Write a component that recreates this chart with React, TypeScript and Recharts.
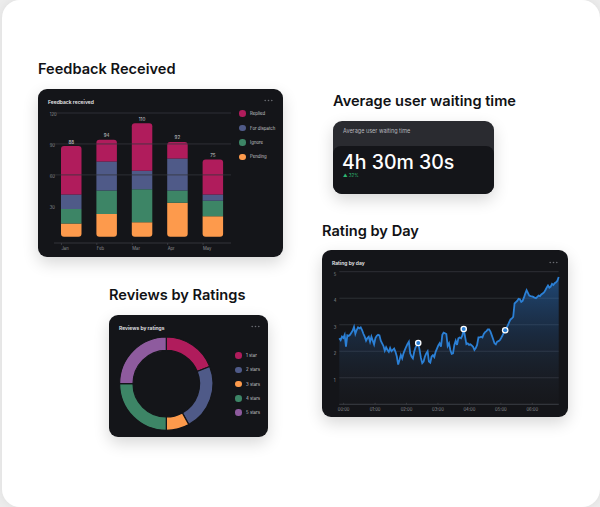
import { BarChart, Bar, XAxis, YAxis, ReferenceLine, LabelList, PieChart, Pie, Cell, AreaChart, Area, CartesianGrid } from 'recharts';

// Feedback received (stacked)
const MONTHS = ['Jan', 'Feb', 'Mar', 'Apr', 'May'];
const PENDING = [13, 22, 14, 33, 20];
const IGNORE = [14, 23, 32, 12, 15];
const DISPATCH = [14, 28, 18, 31, 6];
const REPLIED = [47, 21, 46, 16, 34];
const TOTALS = [88, 94, 110, 92, 75];
const FEEDBACK_TICKS = [30, 60, 90, 120];
const FEEDBACK_GRID = [60, 90, 120];

// Reviews by ratings
const STAR_LABELS = ['1 star', '2 stars', '3 stars', '4 stars', '5 stars'];
const STAR_SHARES = [19, 23, 8, 25, 25];

// Rating by day
const HOURS = [0, 1, 2, 3, 4, 5, 6];
const HOUR_LABELS = ['00:00', '01:00', '02:00', '03:00', '04:00', '05:00', '06:00'];
const RATING_TICKS = [1, 2, 3, 4, 5];
const DAY_START = -0.138;
const DAY_STEP = 0.04255;
const DAY_RATINGS = [
  2.49, 2.42, 2.55, 2.5, 2.62, 2.17, 2.6, 2.58, 2.62, 2.7, 2.78, 2.92, 2.66,
  2.8, 2.9, 2.86, 2.9, 2.8, 2.66, 2.55, 2.4, 2.5, 2.55, 2.36, 2.55,
  2.4, 2.26, 2.5, 2.58, 2.62, 2.6, 2.4, 2.3, 2.2, 2.02, 2.15, 2.05,
  1.98, 2.12, 2.0, 2.05, 2.1, 1.98, 1.8, 1.5, 1.67, 1.86, 1.73, 1.92,
  2.05, 2.17, 2.28, 2.36, 1.92, 1.8, 1.73, 1.98, 2.15, 2.22, 2.31, 2.05,
  1.75, 1.55, 1.61, 1.8, 1.92, 2.0, 1.61, 1.57, 1.8, 1.85, 1.78, 1.98,
  2.1, 2.22, 2.3, 2.17, 2.62, 2.7, 2.68, 2.65, 2.2, 2.3, 2.05, 1.9,
  1.92, 2.24, 2.4, 2.24, 2.49, 2.52, 2.49, 2.6, 2.84, 2.55, 2.27, 2.3,
  2.24, 2.26, 2.22, 2.17, 2.05, 2.12, 2.24, 2.52, 2.52, 2.55, 2.52, 2.65,
  2.72, 2.76, 2.82, 2.82, 2.74, 2.6, 2.45, 2.3, 2.26, 2.36, 2.38, 2.42,
  2.5, 2.6, 2.7, 2.79, 2.88, 2.98, 3.1, 3.2, 3.24, 3.3, 3.8, 3.85,
  3.9, 3.98, 3.96, 3.86, 3.9, 4.02, 4.18, 4.3, 4.2, 4.1, 4.08, 4.07,
  4.05, 4.02, 4.0, 4.05, 4.1, 4.08, 4.14, 4.18, 4.22, 4.3, 4.4, 4.48,
  4.4, 4.44, 4.54, 4.5, 4.57, 4.6, 4.66, 4.8,
];
const HIGHLIGHT = [59, 93, 124];

const CARD_BG = '#141519';
const GRID = '#34363c';
const AXIS_TEXT = '#8b8d93';
const FONT = 'Inter, "Noto Sans", sans-serif';
const C_RED = '#b01c5c';
const C_BLUE = '#4f5a88';
const C_GREEN = '#3d8566';
const C_ORANGE = '#fd9a4c';
const C_PURPLE = '#8e5b9e';
const BAR_W = 20.5;

const feedbackData = MONTHS.map((m, i) => ({
  month: m,
  pending: PENDING[i],
  ignore: IGNORE[i],
  dispatch: DISPATCH[i],
  replied: REPLIED[i],
  total: TOTALS[i],
}));
const starData = STAR_LABELS.map((name, i) => ({ name, value: STAR_SHARES[i] }));
const STAR_COLORS = [C_RED, C_BLUE, C_ORANGE, C_GREEN, C_PURPLE];
const dayData = DAY_RATINGS.map((r, i) => ({ t: DAY_START + i * DAY_STEP, rating: r }));
const DAY_END = DAY_START + (DAY_RATINGS.length - 1) * DAY_STEP;

function Card({ left, top, width, height, bg = CARD_BG, children }: any) {
  return (
    <div
      style={{
        position: 'absolute',
        left,
        top,
        width,
        height,
        background: bg,
        borderRadius: 9,
        overflow: 'hidden',
        boxShadow: '0 6px 16px rgba(0,0,0,0.16)',
      }}
    >
      {children}
    </div>
  );
}

function Heading({ x, cy, text }: { x: number; cy: number; text: string }) {
  return (
    <div
      style={{
        position: 'absolute',
        left: x,
        top: cy - 7.3,
        fontSize: 14.6,
        lineHeight: '14.6px',
        fontWeight: 600,
        color: '#111215',
        fontFamily: FONT,
        whiteSpace: 'nowrap',
      }}
    >
      {text}
    </div>
  );
}

function CardTitle({ text }: { text: string }) {
  return (
    <div
      style={{
        position: 'absolute',
        left: 10,
        top: 10.5,
        fontSize: 5,
        lineHeight: '5px',
        fontWeight: 600,
        color: '#e8e9ec',
        fontFamily: FONT,
        whiteSpace: 'nowrap',
      }}
    >
      {text}
    </div>
  );
}

function More({ right, top }: { right: number; top: number }) {
  return (
    <svg style={{ position: 'absolute', right, top }} width={9} height={3}>
      {[1.2, 4.5, 7.8].map((cx) => (
        <circle key={cx} cx={cx} cy={1.5} r={0.8} fill="#6b6d73" />
      ))}
    </svg>
  );
}

function LegendList({ left, top, gap, items }: { left: number; top: number; gap: number; items: { label: string; color: string }[] }) {
  return (
    <div style={{ position: 'absolute', left, top }}>
      {items.map((it, i) => (
        <div key={it.label} style={{ position: 'absolute', top: i * gap - 3.3, left: 0, display: 'flex', alignItems: 'center', height: 6.6 }}>
          <div style={{ width: 6.6, height: 6.6, borderRadius: '50%', background: it.color }} />
          <div style={{ marginLeft: 4.5, fontSize: 4.3, color: '#c4c5ca', fontFamily: FONT, whiteSpace: 'nowrap' }}>{it.label}</div>
        </div>
      ))}
    </div>
  );
}

const FeedbackXTick = ({ x, y, payload }: any) => {
  const left = x - BAR_W / 2;
  return (
    <g>
      <line x1={left} x2={left} y1={y} y2={y + 2} stroke="#4a4c52" strokeWidth={0.6} />
      <text x={left} y={y + 5} fontSize={4.2} fill={AXIS_TEXT} fontFamily={FONT} dominantBaseline="central">
        {payload.value}
      </text>
    </g>
  );
};

const LeftYTick = ({ y, payload }: any) => (
  <text x={11.7} y={y + 1.8} fontSize={4.2} fill={AXIS_TEXT} fontFamily={FONT} dominantBaseline="central">
    {payload.value}
  </text>
);

const HourTick = ({ x, y, payload }: any) => (
  <g>
    <line x1={x} x2={x} y1={y - 1.5} y2={y} stroke="#4a4c52" strokeWidth={0.6} />
    <text x={x} y={y + 5} fontSize={4.2} fill={AXIS_TEXT} fontFamily={FONT} textAnchor="middle" dominantBaseline="central">
      {HOUR_LABELS[HOURS.indexOf(payload.value)]}
    </text>
  </g>
);

const RatingYTick = ({ y, payload }: any) => (
  <text x={11.7} y={y + 2.3} fontSize={4.2} fill={AXIS_TEXT} fontFamily={FONT} dominantBaseline="central">
    {payload.value}
  </text>
);

const renderDot = (p: any) => {
  if (!HIGHLIGHT.includes(p.index)) return <g key={p.index} />;
  return (
    <g key={p.index}>
      <circle cx={p.cx} cy={p.cy} r={3.3} fill="#ffffff" />
      <circle cx={p.cx} cy={p.cy} r={2} fill="#2b7fd4" />
    </g>
  );
};

function FeedbackCard() {
  return (
    <Card left={38} top={89} width={245} height={168}>
      <CardTitle text="Feedback received" />
      <More right={10} top={10} />
      <BarChart width={245} height={168} data={feedbackData} margin={{ top: 24, right: 52, bottom: 4, left: 0 }}>
        <YAxis width={16} domain={[-6, 120]} ticks={FEEDBACK_TICKS} axisLine={false} tickLine={false} tick={<LeftYTick />} />
        <XAxis
          dataKey="month"
          height={10}
          axisLine={{ stroke: '#3a3c42', strokeWidth: 0.8 }}
          tickLine={false}
          tickSize={0}
          tickMargin={0}
          tick={<FeedbackXTick />}
        />
        {FEEDBACK_GRID.map((v) => (
          <ReferenceLine key={v} y={v} stroke={GRID} strokeWidth={0.8} />
        ))}
        <Bar dataKey="pending" stackId="a" fill={C_ORANGE} barSize={BAR_W} radius={[0, 0, 3, 3]} isAnimationActive={false} />
        <Bar dataKey="ignore" stackId="a" fill={C_GREEN} barSize={BAR_W} isAnimationActive={false} />
        <Bar dataKey="dispatch" stackId="a" fill={C_BLUE} barSize={BAR_W} isAnimationActive={false} />
        <Bar dataKey="replied" stackId="a" fill={C_RED} barSize={BAR_W} radius={[3, 3, 0, 0]} isAnimationActive={false}>
          <LabelList dataKey="total" position="top" offset={2.5} fill="#c9cacf" fontSize={4.6} fontFamily={FONT} />
        </Bar>
      </BarChart>
      <LegendList
        left={201}
        top={24.7}
        gap={14.4}
        items={[
          { label: 'Replied', color: C_RED },
          { label: 'For dispatch', color: C_BLUE },
          { label: 'Ignore', color: C_GREEN },
          { label: 'Pending', color: C_ORANGE },
        ]}
      />
    </Card>
  );
}

function WaitingCard() {
  return (
    <Card left={333} top={121} width={161} height={73} bg="#2a2b30">
      <div style={{ position: 'absolute', left: 10, top: 8.3, fontSize: 5.5, lineHeight: '5.5px', color: '#b7b8bd', fontFamily: FONT, whiteSpace: 'nowrap' }}>
        Average user waiting time
      </div>
      <div style={{ position: 'absolute', left: 0, top: 25, width: 161, height: 48, background: CARD_BG, borderRadius: '8px 8px 0 0' }}>
        <div style={{ position: 'absolute', left: 9, top: 7, fontSize: 19.5, lineHeight: '19.5px', fontWeight: 500, color: '#ffffff', fontFamily: FONT, whiteSpace: 'nowrap' }}>
          4h 30m 30s
        </div>
        <div style={{ position: 'absolute', left: 10, top: 27, fontSize: 4.5, lineHeight: '5px', color: '#2eb872', fontFamily: FONT, whiteSpace: 'nowrap' }}>
          ▲ 32%
        </div>
      </div>
    </Card>
  );
}

function ReviewsCard() {
  return (
    <Card left={109} top={315} width={159} height={122}>
      <CardTitle text="Reviews by ratings" />
      <More right={8} top={10} />
      <PieChart width={159} height={122} margin={{ top: 0, right: 0, bottom: 0, left: 0 }}>
        <Pie
          data={starData}
          dataKey="value"
          cx={57.3}
          cy={68.7}
          innerRadius={33.3}
          outerRadius={46.7}
          startAngle={90}
          endAngle={-270}
          stroke={CARD_BG}
          strokeWidth={1.2}
          isAnimationActive={false}
        >
          {starData.map((d, i) => (
            <Cell key={d.name} fill={STAR_COLORS[i]} />
          ))}
        </Pie>
      </PieChart>
      <LegendList
        left={126}
        top={40.7}
        gap={14.2}
        items={STAR_LABELS.map((label, i) => ({ label, color: STAR_COLORS[i] }))}
      />
    </Card>
  );
}

function RatingCard() {
  return (
    <Card left={322} top={250} width={246} height={167}>
      <CardTitle text="Rating by day" />
      <More right={10} top={11} />
      <AreaChart width={246} height={167} data={dayData} margin={{ top: 21.7, right: 9.3, bottom: 2.7, left: 0 }}>
        <defs>
          <linearGradient id="ratingFill" x1="0" y1="0" x2="0" y2="1">
            <stop offset="0%" stopColor="#2c80dc" stopOpacity={0.8} />
            <stop offset="45%" stopColor="#2a62a4" stopOpacity={0.45} />
            <stop offset="100%" stopColor="#3a3f48" stopOpacity={0.08} />
          </linearGradient>
        </defs>
        <CartesianGrid vertical={false} stroke={GRID} strokeWidth={0.8} />
        <YAxis width={17.3} domain={[0, 5]} ticks={RATING_TICKS} axisLine={false} tickLine={false} tick={<RatingYTick />} />
        <XAxis
          type="number"
          dataKey="t"
          domain={[DAY_START, DAY_END]}
          ticks={HOURS}
          height={10}
          axisLine={{ stroke: '#3a3c42', strokeWidth: 0.8 }}
          tickLine={false}
          tickSize={0}
          tickMargin={0}
          tick={<HourTick />}
        />
        <Area
          type="linear"
          dataKey="rating"
          stroke="#2b80d6"
          strokeWidth={1.8}
          fill="url(#ratingFill)"
          dot={renderDot}
          activeDot={false}
          isAnimationActive={false}
        />
      </AreaChart>
    </Card>
  );
}

export default function App() {
  return (
    <div style={{ position: 'absolute', left: 0, top: 0, width: 600, height: 507, background: '#ececec', overflow: 'hidden', fontFamily: FONT }}>
      <div style={{ position: 'absolute', left: 2, top: 0, right: 0, bottom: 0, background: '#ffffff', borderRadius: 18, boxShadow: '0 0 10px rgba(0,0,0,0.06)' }} />
      <Heading x={38} cy={69.7} text="Feedback Received" />
      <Heading x={333} cy={101} text="Average user waiting time" />
      <Heading x={322} cy={231} text="Rating by Day" />
      <Heading x={109} cy={295} text="Reviews by Ratings" />
      <FeedbackCard />
      <WaitingCard />
      <ReviewsCard />
      <RatingCard />
    </div>
  );
}
